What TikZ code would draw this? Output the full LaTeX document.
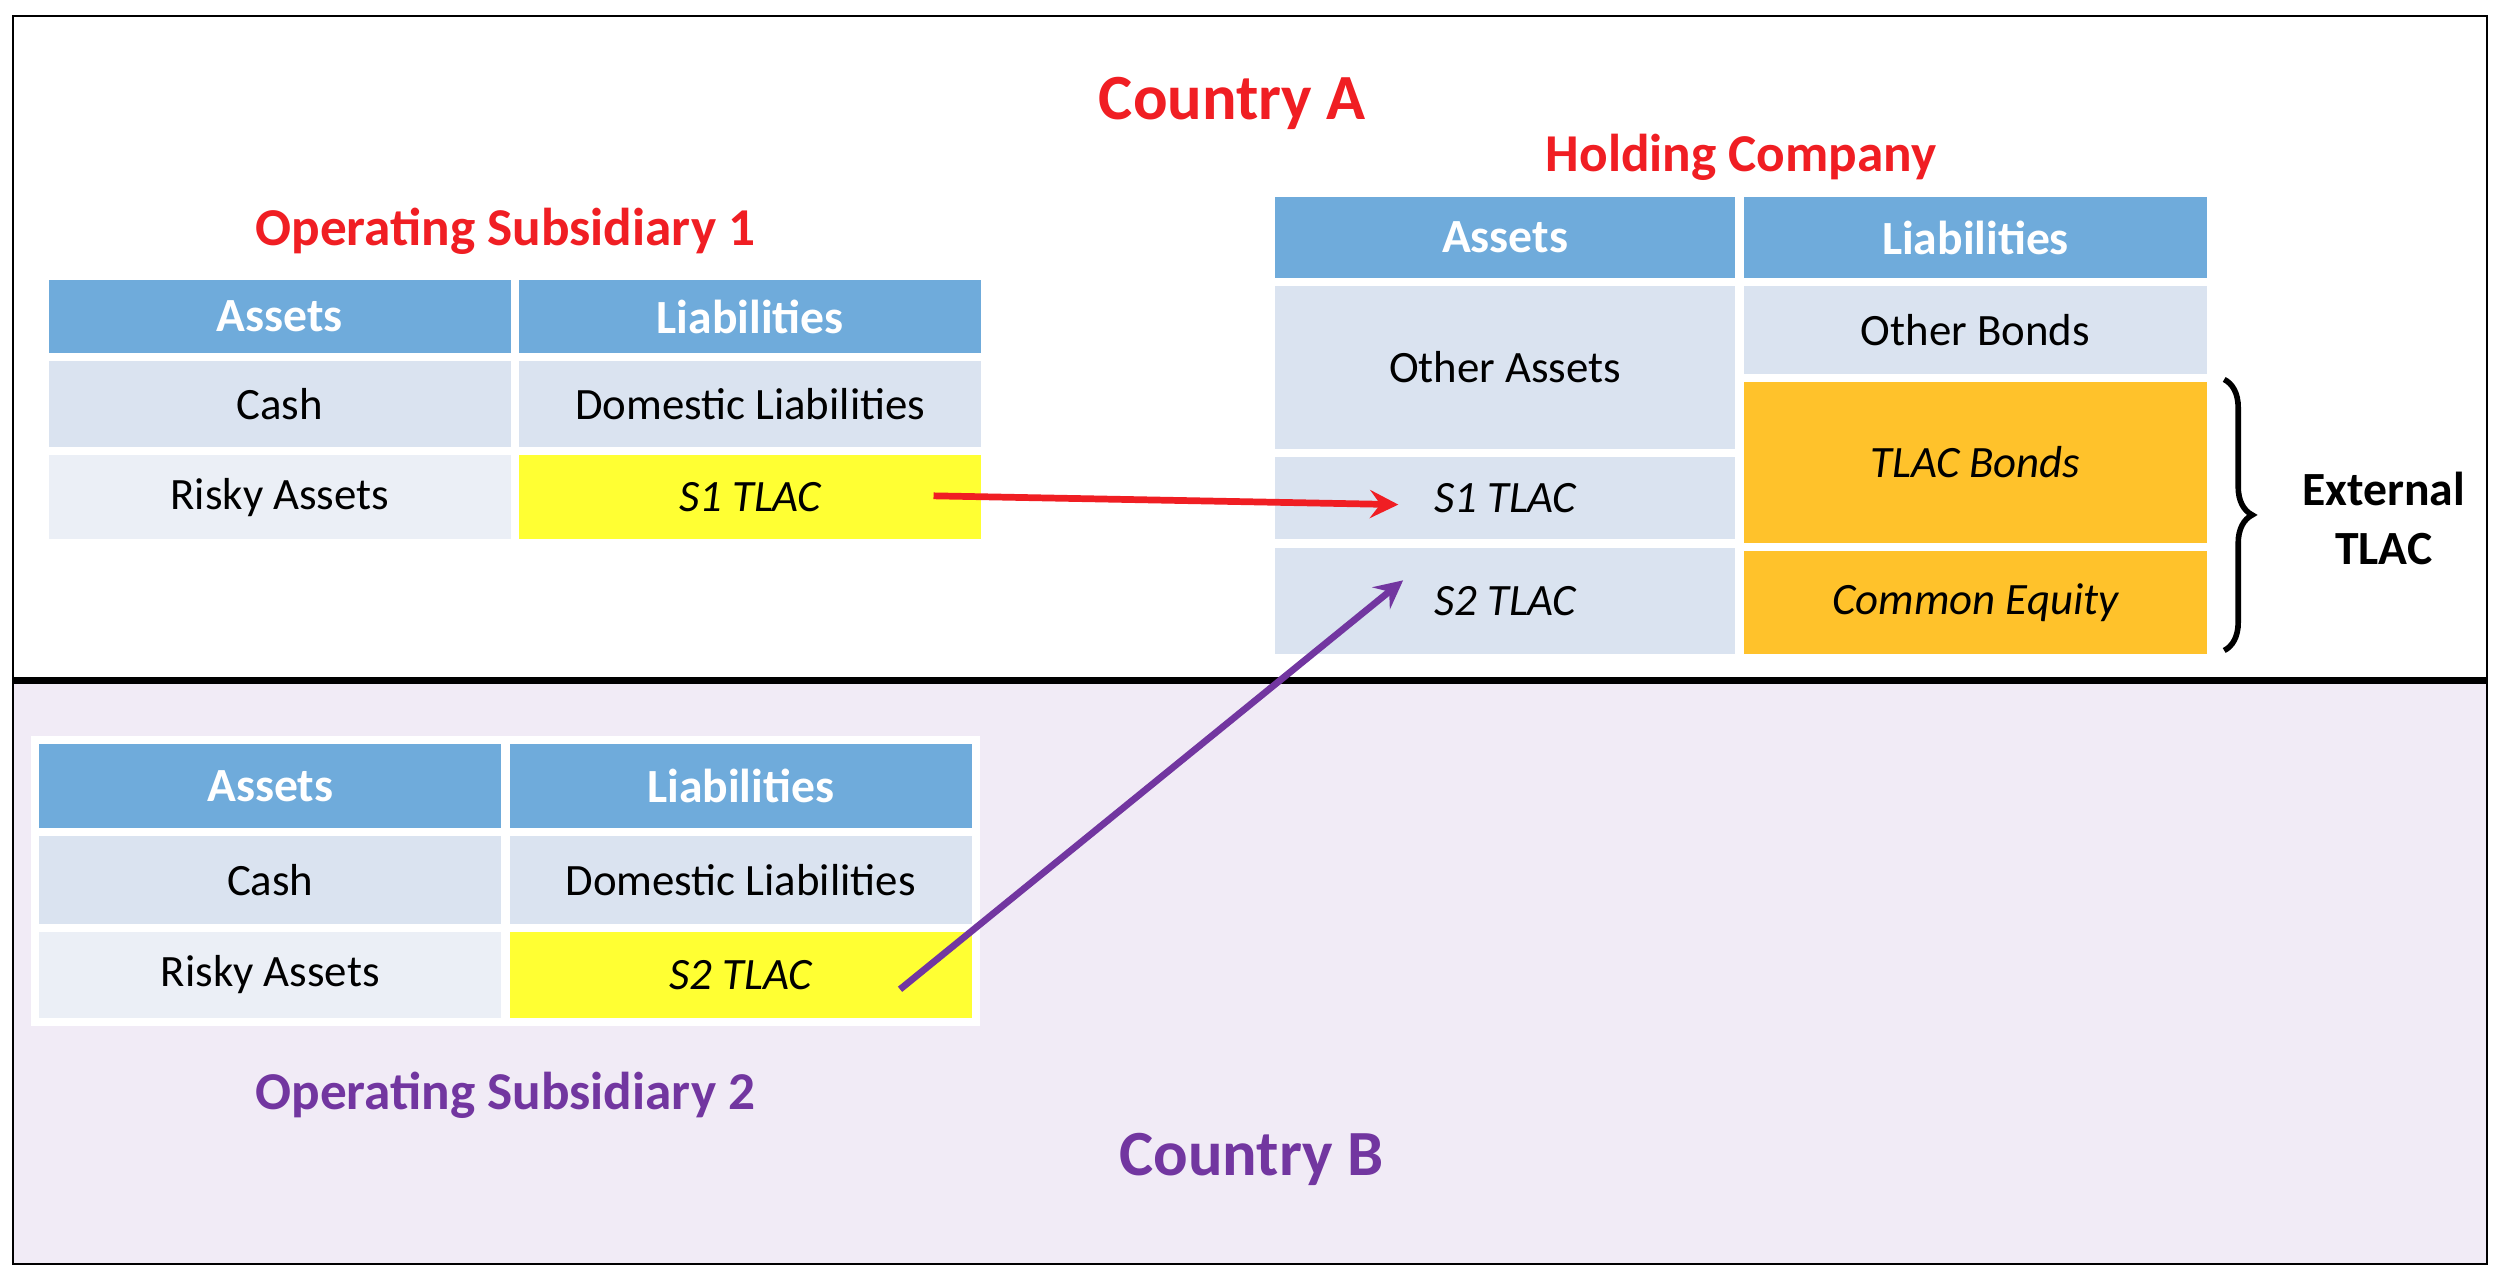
\documentclass[tikz,border=0pt]{standalone}
\usepackage{fontspec}
\setmainfont{Carlito}
\usetikzlibrary{calc, decorations.pathreplacing}
\definecolor{hdrblue}{HTML}{6FABDB}
\definecolor{rowblue}{HTML}{DAE3F0}
\definecolor{rowpale}{HTML}{EBEFF6}
\definecolor{tlacyellow}{HTML}{FFFF33}
\definecolor{tlacorange}{HTML}{FFC22B}
\definecolor{lavender}{HTML}{F1EBF6}
\definecolor{ctryred}{HTML}{F01E23}
\definecolor{ctrypurple}{HTML}{7236A0}
\tikzset{
  cell/.style={rectangle, draw=white, line width=1.5pt, inner sep=0pt, font=\fontsize{8}{9.6}\selectfont},
  hdr/.style={cell, fill=hdrblue, text=white, font=\fontsize{8.5}{10}\selectfont\bfseries},
  title/.style={font=\fontsize{9.5}{11}\selectfont\bfseries}
}
\begin{document}
\begin{tikzpicture}
\useasboundingbox (0,0) rectangle (15.68,8);
\fill[white] (0,0) rectangle (15.68,8);
\draw[black, thin] (0.08,3.73) rectangle (15.6,7.9);
\draw[black, thin, fill=lavender] (0.08,0.07) rectangle (15.6,3.73);
\draw[black, line width=1.3pt] (0.08,3.73) -- (15.6,3.73);

\node[title, text=ctryred, font=\fontsize{11.5}{13}\selectfont\bfseries] (ctryA) at (7.73,7.35) {Country A};
\node[title, text=ctryred] (holdT) at (10.92,7.01) {Holding Company};
\node[title, text=ctryred] (sub1T) at (3.17,6.55) {Operating Subsidiary 1};
\node[title, text=ctrypurple] (sub2T) at (3.17,1.13) {Operating Subsidiary 2};
\node[title, text=ctrypurple, font=\fontsize{11.5}{13}\selectfont\bfseries] (ctryB) at (7.85,0.73) {Country B};

% subsidiary 1
\node[hdr, minimum width=2.95cm, minimum height=0.51cm] (s1a) at (1.755,6.015) {Assets};
\node[hdr, minimum width=2.95cm, minimum height=0.51cm] (s1l) at (4.705,6.015) {Liabilities};
\node[cell, fill=rowblue, minimum width=2.95cm, minimum height=0.59cm] (s1cash) at (1.755,5.465) {Cash};
\node[cell, fill=rowblue, minimum width=2.95cm, minimum height=0.59cm] (s1dom) at (4.705,5.465) {Domestic Liabilities};
\node[cell, fill=rowpale, minimum width=2.95cm, minimum height=0.58cm] (s1risk) at (1.755,4.88) {Risky Assets};
\node[cell, fill=tlacyellow, minimum width=2.95cm, minimum height=0.58cm] (s1tlac) at (4.705,4.88) {\itshape S1 TLAC};

% holding company
\node[hdr, minimum width=2.94cm, minimum height=0.56cm] (ha) at (9.44,6.51) {Assets};
\node[hdr, minimum width=2.96cm, minimum height=0.56cm] (hl) at (12.39,6.51) {Liabilities};
\node[cell, fill=rowblue, minimum width=2.94cm, minimum height=1.07cm] (hother) at (9.44,5.695) {Other Assets};
\node[cell, fill=rowblue, minimum width=2.94cm, minimum height=0.57cm] (hs1) at (9.44,4.875) {\itshape S1 TLAC};
\node[cell, fill=rowblue, minimum width=2.94cm, minimum height=0.72cm] (hs2) at (9.44,4.23) {\itshape S2 TLAC};
\node[cell, fill=rowblue, minimum width=2.96cm, minimum height=0.60cm] (hbonds) at (12.39,5.93) {Other Bonds};
\node[cell, fill=tlacorange, minimum width=2.96cm, minimum height=1.06cm] (htlac) at (12.39,5.10) {\itshape TLAC Bonds};
\node[cell, fill=tlacorange, minimum width=2.96cm, minimum height=0.70cm] (hequity) at (12.39,4.22) {\itshape Common Equity};

\draw[decorate, decoration={brace, amplitude=5pt}, line width=1pt] (13.95,5.62) -- (13.95,3.92);
\node[font=\fontsize{8.5}{10.5}\selectfont\bfseries, align=center] (ext) at (14.95,4.75) {External\\TLAC};

% subsidiary 2
\node[hdr, minimum width=2.95cm, minimum height=0.58cm] (s2a) at (1.695,3.07) {Assets};
\node[hdr, minimum width=2.95cm, minimum height=0.58cm] (s2l) at (4.645,3.07) {Liabilities};
\node[cell, fill=rowblue, minimum width=2.95cm, minimum height=0.60cm] (s2cash) at (1.695,2.48) {Cash};
\node[cell, fill=rowblue, minimum width=2.95cm, minimum height=0.60cm] (s2dom) at (4.645,2.48) {Domestic Liabilities};
\node[cell, fill=rowpale, minimum width=2.95cm, minimum height=0.59cm] (s2risk) at (1.695,1.885) {Risky Assets};
\node[cell, fill=tlacyellow, minimum width=2.95cm, minimum height=0.59cm] (s2tlac) at (4.645,1.885) {\itshape S2 TLAC};

% connectors
\draw[ctryred, line width=1.2pt, -stealth] ($(s1tlac.center)+(1.15,0.01)$) -- ($(hs1.center)+(-0.67,-0.04)$);
\draw[ctrypurple, line width=1.2pt, -stealth] ($(s2tlac.center)+(1.0,-0.09)$) -- ($(hs2.center)+(-0.64,0.13)$);
\end{tikzpicture}
\end{document}
